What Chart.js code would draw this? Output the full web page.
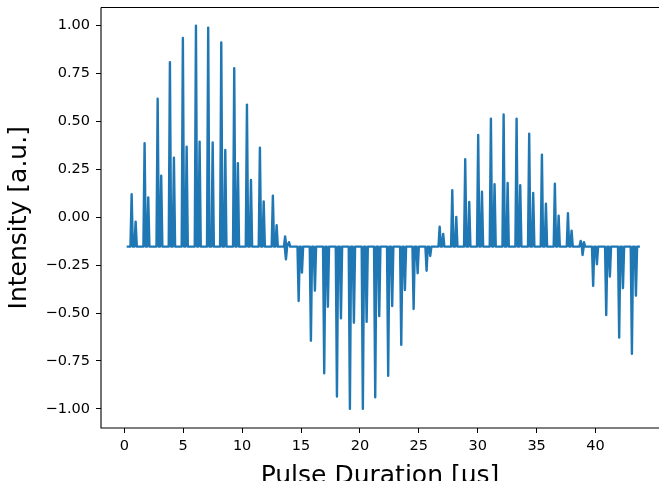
<!DOCTYPE html>
<html>
<head>
<meta charset="UTF-8" />
<title>Pulse Duration Scan</title>
<script src="https://cdn.jsdelivr.net/npm/chart.js"></script>
<style>
  html, body { margin: 0; padding: 0; overflow: hidden; background: #fff; }
  canvas { display: block; }
</style>
</head>
<body>
<canvas id="scan" width="659" height="481"></canvas>
<script>
// trace limits [us] and the flat level between pulses
const traceStart = 0.2;
const traceEnd = 43.77;
const baseLevel = -0.153;

// pulse positions [us]
const pulseX = [
  0.62, 0.96, 1.72, 2.03, 2.83, 3.13, 3.87, 4.21, 4.97, 5.29, 6.08, 6.39, 7.12, 7.50,
  8.23, 8.57, 9.33, 9.64, 10.41, 10.75, 11.51, 11.83, 12.61, 12.93, 13.65, 13.72, 13.98,
  14.80, 15.08, 15.84, 16.18, 16.97, 17.28, 18.05, 18.39, 19.15, 19.49, 20.25, 20.57,
  21.30, 21.64, 22.40, 22.74, 23.51, 23.82, 24.56, 24.90, 25.66, 25.97,
  26.77, 27.07, 27.84, 28.18, 28.94, 29.28, 30.04, 30.36, 31.12, 31.43, 32.20, 32.54,
  33.30, 33.61, 34.37, 34.71, 35.45, 35.79, 36.55, 36.87, 37.66, 37.97, 38.74, 38.90, 39.02,
  39.80, 40.12, 40.91, 41.22, 42.01, 42.33, 43.09, 43.43
];

// pulse peak intensities [a.u.]
const pulseY = [
  0.12, -0.023, 0.386, 0.104, 0.619, 0.217, 0.81, 0.311, 0.936, 0.368, 1.0, 0.395, 0.99, 0.39,
  0.913, 0.351, 0.778, 0.282, 0.588, 0.195, 0.363, 0.083, 0.113, -0.042, -0.10, -0.22, -0.13,
  -0.437, -0.289, -0.644, -0.383, -0.814, -0.467, -0.936, -0.527, -1.0, -0.55, -1.0, -0.545,
  -0.94, -0.515, -0.827, -0.463, -0.666, -0.38, -0.479, -0.292, -0.279, -0.202,
  -0.049, -0.087, 0.141, 0.002, 0.303, 0.08, 0.43, 0.134, 0.515, 0.172, 0.537, 0.179,
  0.515, 0.167, 0.436, 0.127, 0.327, 0.071, 0.175, 0.008, 0.021, -0.07, -0.124, -0.197, -0.13,
  -0.358, -0.245, -0.51, -0.31, -0.628, -0.37, -0.713, -0.409
];

const xTicks = [0, 5, 10, 15, 20, 25, 30, 35, 40];
const yTicks = [-1, -0.75, -0.5, -0.25, 0, 0.25, 0.5, 0.75, 1];

// each pulse is a narrow spike rising from the flat level
const halfWidth = 0.1;
const points = [{ x: traceStart, y: baseLevel }];
pulseX.forEach((x, i) => {
  points.push({ x: x - halfWidth, y: baseLevel });
  points.push({ x: x, y: pulseY[i] });
  points.push({ x: x + halfWidth, y: baseLevel });
});
points.push({ x: traceEnd, y: baseLevel });

const fmtY = v => (v < 0 ? '\u2212' : '') + Math.abs(v).toFixed(2);

// fixed axis box sizes, no extra room for edge labels
const fixSize = (w, h) => s => {
  if (w !== null) s.width = w;
  if (h !== null) s.height = h;
  s.paddingTop = s.paddingBottom = s.paddingLeft = s.paddingRight = 0;
};

// left, top and bottom spines (the right one lies past the canvas edge)
const frame = {
  id: 'frame',
  afterDraw(chart) {
    const { ctx, chartArea: a } = chart;
    ctx.save();
    ctx.strokeStyle = '#000';
    ctx.lineWidth = 1.1;
    ctx.beginPath();
    ctx.moveTo(a.left, a.top);
    ctx.lineTo(a.right, a.top);
    ctx.moveTo(a.left, a.top);
    ctx.lineTo(a.left, a.bottom);
    ctx.lineTo(a.right, a.bottom);
    ctx.stroke();
    ctx.restore();
  }
};

const tickFont = { family: 'DejaVu Sans', size: 14.5 };
const titleFont = { family: 'DejaVu Sans', size: 25, lineHeight: 0.6 };

new Chart(document.getElementById('scan'), {
  type: 'line',
  data: {
    datasets: [{
      data: points,
      borderColor: '#1f77b4',
      borderWidth: 2.4,
      borderJoinStyle: 'round',
      pointRadius: 0,
      tension: 0,
      fill: false
    }]
  },
  options: {
    responsive: false,
    animation: false,
    devicePixelRatio: 1,
    layout: { autoPadding: false, padding: { top: 7.5, right: 0, left: 0, bottom: 0 } },
    plugins: { legend: { display: false }, tooltip: { enabled: false } },
    scales: {
      x: {
        type: 'linear',
        min: -1.98,
        max: 45.39,
        afterFit: fixSize(null, 53),
        afterBuildTicks: s => { s.ticks = xTicks.map(v => ({ value: v })); },
        grid: { drawOnChartArea: false, drawTicks: true, tickLength: 5, tickColor: '#000', tickWidth: 1 },
        border: { display: false },
        ticks: { color: '#000', font: tickFont, padding: 5, maxRotation: 0, callback: v => String(v) },
        title: { display: true, text: 'Pulse Duration [\u03bcs]', color: '#000', font: titleFont, padding: { top: 0, bottom: -2.5 } }
      },
      y: {
        type: 'linear',
        min: -1.1,
        max: 1.095,
        afterFit: fixSize(101, null),
        afterBuildTicks: s => { s.ticks = yTicks.map(v => ({ value: v })); },
        grid: { drawOnChartArea: false, drawTicks: true, tickLength: 5, tickColor: '#000', tickWidth: 1 },
        border: { display: false },
        ticks: { color: '#000', font: tickFont, padding: 6, callback: v => fmtY(v) },
        title: { display: true, text: 'Intensity [a.u.]', color: '#000', font: titleFont, padding: { top: 12, bottom: 0 } }
      }
    }
  },
  plugins: [frame]
});
</script>
</body>
</html>
